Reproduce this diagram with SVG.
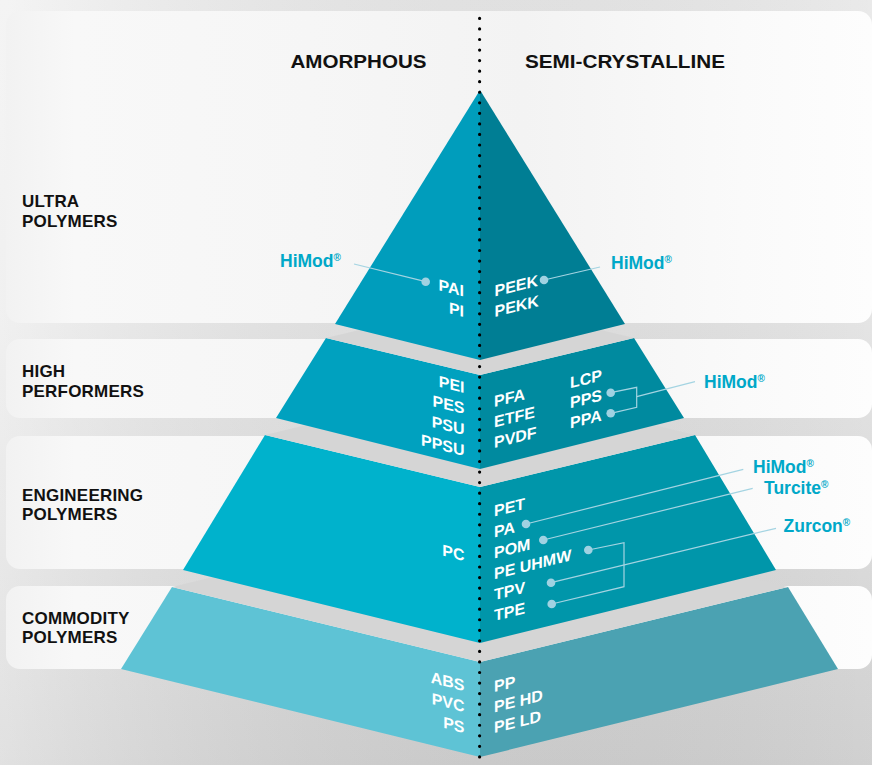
<svg xmlns="http://www.w3.org/2000/svg" width="872" height="765" viewBox="0 0 872 765">
<defs>
<linearGradient id="bg" x1="0" y1="0" x2="0" y2="1">
<stop offset="0" stop-color="#f1f1f1"/>
<stop offset="0.4" stop-color="#ececec"/>
<stop offset="0.75" stop-color="#e0e0e0"/>
<stop offset="1" stop-color="#d7d7d7"/>
</linearGradient>
<linearGradient id="bgx" x1="0" y1="0" x2="1" y2="0">
<stop offset="0" stop-color="#ffffff" stop-opacity="0.25"/>
<stop offset="1" stop-color="#000000" stop-opacity="0.03"/>
</linearGradient>
<linearGradient id="card" gradientUnits="userSpaceOnUse" x1="6" y1="0" x2="872" y2="0">
<stop offset="0" stop-color="#f2f2f2"/>
<stop offset="0.08" stop-color="#f8f8f8"/>
<stop offset="0.35" stop-color="#f6f6f6"/>
<stop offset="0.6" stop-color="#f3f3f3"/>
<stop offset="0.85" stop-color="#fafafa"/>
<stop offset="1" stop-color="#fdfdfd"/>
</linearGradient>
<style>
.tier{font-family:"Liberation Sans",Arial,sans-serif;font-weight:700;font-size:17px;fill:#111;letter-spacing:0.2px}
.hdr{font-family:"Liberation Sans",Arial,sans-serif;font-weight:700;font-size:19px;fill:#111}
.mat{font-family:"Liberation Sans",Arial,sans-serif;font-weight:700;font-size:16px;fill:#fff}
.end{text-anchor:end}
.brand{font-family:"Liberation Sans",Arial,sans-serif;font-weight:700;font-size:17.5px;fill:#00a8c8}
.reg{font-size:10px}
.card{fill:url(#card)}
.gray{fill:#d5d5d5}
.lead{stroke:#a4d4e2;stroke-width:1.2;fill:none}
.dot{fill:#a0d2e2}
</style>
</defs>

<rect x="0" y="0" width="872" height="765" fill="url(#bg)"/>
<rect x="0" y="0" width="872" height="765" fill="url(#bgx)"/>

<g id="cards">
<rect class="card" x="6" y="11" width="866" height="312" rx="14"/>
<rect class="card" x="6" y="339" width="866" height="79" rx="14"/>
<rect class="card" x="6" y="436" width="866" height="133" rx="14"/>
<rect class="card" x="6" y="586" width="866" height="83" rx="14"/>
</g>

<g id="headers">
<text class="hdr" x="290.5" y="68" textLength="136" lengthAdjust="spacingAndGlyphs">AMORPHOUS</text>
<text class="hdr" x="525" y="68" textLength="200" lengthAdjust="spacingAndGlyphs">SEMI-CRYSTALLINE</text>
</g>

<g id="tier-commodity">
<polygon points="172,587 480,662 480,757 121,669" fill="#5ec3d5"/>
<polygon points="480,662 788,587 838,669 480,757" fill="#4ba2b2"/>
<polygon class="gray" points="172,587 480,512 788,587 480,662"/>
<text class="tier" x="22" y="624">COMMODITY</text>
<text class="tier" x="22" y="643">POLYMERS</text>
<g transform="translate(464.5,0) skewY(13.8)">
<text class="mat end" x="0" y="691">ABS</text>
<text class="mat end" x="0" y="712">PVC</text>
<text class="mat end" x="0" y="733">PS</text>
</g>
<g transform="translate(494,0) skewY(-13.8)">
<text class="mat" x="0" y="692">PP</text>
<text class="mat" x="0" y="712.5">PE HD</text>
<text class="mat" x="0" y="733">PE LD</text>
</g>
</g>

<g id="tier-engineering">
<polygon points="265,435 480,487 480,643 183,570" fill="#00b2cc"/>
<polygon points="480,487 695,435 776,570 480,643" fill="#0096aa"/>
<polygon class="gray" points="265,435 480,383 695,435 480,487"/>
<text class="tier" x="22" y="500.5">ENGINEERING</text>
<text class="tier" x="22" y="520">POLYMERS</text>
<g transform="translate(464.5,0) skewY(13.8)">
<text class="mat end" x="0" y="561">PC</text>
</g>
<g transform="translate(494,0) skewY(-13.8)">
<text class="mat" x="0" y="516.6">PET</text>
<text class="mat" x="0" y="537.5">PA</text>
<text class="mat" x="0" y="558.4">POM</text>
<text class="mat" x="0" y="579.3">PE UHMW</text>
<text class="mat" x="0" y="600.2">TPV</text>
<text class="mat" x="0" y="621.1">TPE</text>
</g>
</g>

<g id="tier-high">
<polygon points="326,338 480,375 480,469 276,418" fill="#00a1bf"/>
<polygon points="480,375 634,338 684,418 480,469" fill="#008a9f"/>
<polygon class="gray" points="326,338 480,301 634,338 480,375"/>
<text class="tier" x="22" y="377">HIGH</text>
<text class="tier" x="22" y="397">PERFORMERS</text>
<g transform="translate(464.5,0) skewY(13.8)">
<text class="mat end" x="0" y="393">PEI</text>
<text class="mat end" x="0" y="414">PES</text>
<text class="mat end" x="0" y="435">PSU</text>
<text class="mat end" x="0" y="456">PPSU</text>
</g>
<g transform="translate(494,0) skewY(-13.8)">
<text class="mat" x="0" y="407">PFA</text>
<text class="mat" x="0" y="427.5">ETFE</text>
<text class="mat" x="0" y="448">PVDF</text>
</g>
<g transform="translate(570,0) skewY(-13.8)">
<text class="mat" x="0" y="388.3">LCP</text>
<text class="mat" x="0" y="408.3">PPS</text>
<text class="mat" x="0" y="428.5">PPA</text>
</g>
</g>

<g id="tier-ultra">
<polygon points="480,90 335,324 480,360" fill="#009dbc"/>
<polygon points="480,90 480,360 625,324" fill="#007e94"/>
<text class="tier" x="22" y="207">ULTRA</text>
<text class="tier" x="22" y="227">POLYMERS</text>
<g transform="translate(464,0) skewY(13.8)">
<text class="mat end" x="0" y="296.5">PAI</text>
<text class="mat end" x="0" y="317">PI</text>
</g>
<g transform="translate(494.5,0) skewY(-13.8)">
<text class="mat" x="0" y="296.5">PEEK</text>
<text class="mat" x="0" y="317">PEKK</text>
</g>
</g>

<g id="brand-himod-ultra-left"><text class="brand" x="280" y="267">HiMod<tspan class="reg" dy="-6">®</tspan></text></g>
<g id="brand-himod-ultra-right"><text class="brand" x="611" y="269">HiMod<tspan class="reg" dy="-6">®</tspan></text></g>
<g id="brand-himod-high"><text class="brand" x="704" y="387.5">HiMod<tspan class="reg" dy="-6">®</tspan></text></g>
<g id="brand-himod-eng"><text class="brand" x="753" y="472.5">HiMod<tspan class="reg" dy="-6">®</tspan></text></g>
<g id="brand-turcite"><text class="brand" x="764" y="494">Turcite<tspan class="reg" dy="-6">®</tspan></text></g>
<g id="brand-zurcon"><text class="brand" x="783.5" y="532">Zurcon<tspan class="reg" dy="-6">®</tspan></text></g>

<g id="connectors">
<line class="lead" x1="354" y1="264" x2="425.7" y2="281.7"/>
<circle class="dot" cx="425.7" cy="281.7" r="4.3"/>
<line class="lead" x1="544" y1="280" x2="600" y2="267"/>
<circle class="dot" cx="544" cy="280" r="4.3"/>
<polyline class="lead" points="610.7,392.7 636.7,387.3 636.7,407.3 610.7,413.3"/>
<line class="lead" x1="636.7" y1="396.7" x2="695" y2="381.7"/>
<circle class="dot" cx="610.7" cy="392.7" r="4.3"/>
<circle class="dot" cx="610.7" cy="413.3" r="4.3"/>
<line class="lead" x1="526" y1="524" x2="743.3" y2="469.3"/>
<circle class="dot" cx="526" cy="524" r="4.3"/>
<line class="lead" x1="543.3" y1="540" x2="752.7" y2="488.3"/>
<circle class="dot" cx="543.3" cy="540" r="4.3"/>
<polyline class="lead" points="588.3,550 624,542.7 624,586.7 551.7,604"/>
<circle class="dot" cx="588.3" cy="550" r="4.3"/>
<circle class="dot" cx="551.7" cy="604" r="4.3"/>
<line class="lead" x1="551" y1="582.7" x2="776" y2="528.3"/>
<circle class="dot" cx="551" cy="582.7" r="4.3"/>
</g>

<g id="divider">
<line x1="479.6" y1="18.4" x2="479.6" y2="765" stroke="#000" stroke-width="3.2" stroke-linecap="round" stroke-dasharray="0 10.55"/>
</g>
</svg>
